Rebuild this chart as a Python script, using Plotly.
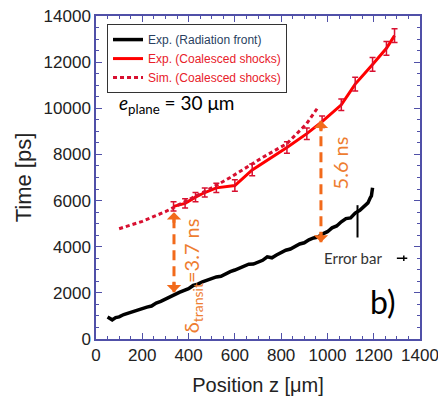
import plotly.graph_objects as go

# Radiation front (experiment)
rad_x = [50, 60, 70, 85, 100, 120, 140, 160, 180, 200, 220, 240, 260, 280, 300, 320, 340, 360, 380, 400,
         420, 440, 460, 480, 500, 520, 540, 560, 580, 600, 620, 640, 660, 680, 700, 720, 740, 760, 780, 800,
         820, 840, 860, 880, 900, 920, 940, 960, 980, 1000, 1020, 1040, 1060, 1080, 1100, 1120, 1140, 1160,
         1175, 1185, 1190, 1195]
rad_y = [950, 900, 830, 930, 960, 1060, 1130, 1180, 1250, 1320, 1380, 1430, 1560, 1630, 1740, 1830, 1920,
         2020, 2110, 2180, 2320, 2380, 2480, 2560, 2600, 2690, 2720, 2830, 2920, 2990, 3060, 3170, 3240,
         3250, 3320, 3410, 3560, 3520, 3640, 3740, 3850, 3900, 4010, 4120, 4170, 4300, 4380, 4420, 4560,
         4650, 4820, 4900, 5080, 5220, 5250, 5460, 5580, 5750, 5900, 6120, 6200, 6560]

# Coalesced shocks (experiment)
exp_x = [335, 385, 430, 470, 520, 600, 675, 825, 911, 977, 1060, 1120, 1195, 1255, 1290]
exp_y = [5750, 5880, 6150, 6350, 6550, 6650, 7330, 8300, 8900, 9420, 10150, 11050, 11900, 12600, 13150]
exp_err = [200, 200, 200, 200, 200, 250, 250, 250, 250, 250, 250, 300, 300, 300, 300]

# Coalesced shocks (simulation)
sim_x = [100, 200, 300, 400, 500, 580, 720, 825, 910, 955]
sim_y = [4780, 5100, 5520, 6020, 6550, 7000, 7870, 8470, 9330, 9980]

# Radiation-front error bar indicator
eb_x = [1130, 1130]
eb_y = [4400, 5800]

# Delay arrows
arr1_x = [337, 337]
arr1_y = [2030, 5490]
arr2_x = [972, 972]
arr2_y = [4190, 9460]

RED = "#FF0000"
CRIMSON = "#D81030"
ORANGE = "#F26A1B"
ORANGE_TXT = "#EE7D31"
FRAME = "#5050A8"

fig = go.Figure()

fig.add_trace(go.Scatter(x=rad_x, y=rad_y, mode="lines", line=dict(color="black", width=3.5),
                         name="Exp. (Radiation front)"))
fig.add_trace(go.Scatter(x=eb_x, y=eb_y, mode="lines", line=dict(color="black", width=2),
                         showlegend=False))
fig.add_trace(go.Scatter(x=exp_x, y=exp_y, mode="lines", line=dict(color=RED, width=3),
                         name="<span style='color:#E8202A'>Exp. (Coalesced shocks)</span>"))
fig.add_trace(go.Scatter(x=exp_x, y=exp_y, mode="markers", marker=dict(size=1, color=CRIMSON),
                         error_y=dict(type="data", array=exp_err, color=CRIMSON, thickness=1.5, width=3),
                         showlegend=False))
fig.add_trace(go.Scatter(x=sim_x, y=sim_y, mode="lines", line=dict(color=CRIMSON, width=3, dash="4px,3px"),
                         name="<span style='color:#E8202A'>Sim. (Coalesced shocks)</span>"))

# dashed arrow shafts
for ax_, ay_ in ((arr1_x, arr1_y), (arr2_x, arr2_y)):
    fig.add_trace(go.Scatter(x=ax_, y=ay_, mode="lines", line=dict(color=ORANGE, width=3, dash="10px,6px"),
                             showlegend=False))
    fig.add_annotation(x=ax_[0], y=ay_[0], ax=0, ay=-12, xref="x", yref="y", text="", showarrow=True,
                       arrowhead=1, arrowsize=0.8, arrowwidth=3, arrowcolor=ORANGE)
    fig.add_annotation(x=ax_[1], y=ay_[1], ax=0, ay=12, xref="x", yref="y", text="", showarrow=True,
                       arrowhead=1, arrowsize=0.8, arrowwidth=3, arrowcolor=ORANGE)

fig.add_annotation(x=415, y=2720, text="δ<sub>transit</sub>=3.7 ns", textangle=-90, showarrow=False,
                   font=dict(family="Lato", size=20, color=ORANGE_TXT))
fig.add_annotation(x=1054, y=7650, text="5.6 ns", textangle=-90, showarrow=False,
                   font=dict(family="Lato", size=20, color=ORANGE_TXT))
fig.add_annotation(x=91, y=10200, text="<i>e</i><sub>plane</sub> = 30 μm", xanchor="left", showarrow=False,
                   font=dict(family="Lato", size=19, color="black"))
fig.add_annotation(x=1240, y=1640, text="b)", showarrow=False,
                   font=dict(family="Lato", size=32, color="black"))
fig.add_annotation(x=977, y=3500, text="Error bar", xanchor="left", showarrow=False,
                   font=dict(family="Lato", size=15, color="#333333"))
fig.add_shape(type="line", x0=1300, x1=1345, y0=3500, y1=3500, line=dict(color="black", width=1.5))
fig.add_shape(type="line", x0=1330, x1=1330, y0=3380, y1=3620, line=dict(color="black", width=1.5))

axis_common = dict(showgrid=False, zeroline=False, showline=True, linecolor=FRAME, linewidth=1.5,
                   mirror="ticks", ticks="inside", ticklen=6, tickwidth=1.2, tickcolor=FRAME,
                   tickformat="d", ticklabeloverflow="allow",
                   tickfont=dict(family="Liberation Sans", size=17, color="#222222"))

fig.update_xaxes(range=[0, 1400], dtick=200, tick0=0,
                 minor=dict(dtick=50, ticks="inside", ticklen=3, tickcolor=FRAME),
                 title=dict(text="Position z [μm]", font=dict(family="Liberation Sans", size=20, color="#222222"),
                            standoff=14),
                 **axis_common)
fig.update_yaxes(range=[0, 14000], dtick=2000, tick0=0,
                 minor=dict(dtick=500, ticks="inside", ticklen=3, tickcolor=FRAME),
                 title=dict(text="Time [ps]", font=dict(family="Liberation Sans", size=22, color="#222222"),
                            standoff=6),
                 **axis_common)

fig.update_layout(
    width=438, height=404,
    margin=dict(l=96, r=18, t=16, b=65, autoexpand=False),
    plot_bgcolor="white", paper_bgcolor="white",
    legend=dict(x=0.034, y=0.975, xanchor="left", yanchor="top", bgcolor="white",
                bordercolor="#333333", borderwidth=1, font=dict(family="Liberation Sans", size=12),
                tracegroupgap=0, itemwidth=30),
)

fig.write_html("out.html")
